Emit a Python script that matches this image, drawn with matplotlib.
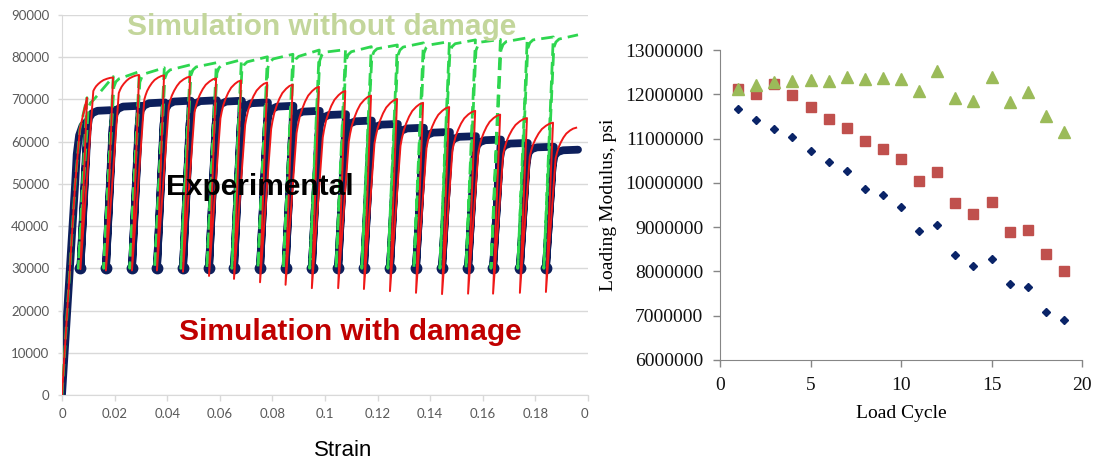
import matplotlib
matplotlib.use("Agg")
import matplotlib.pyplot as plt

# ---------------- left panel: cyclic stress-strain ----------------
# strain at the bottom of each of the 19 unload/reload loops
unload_strain = [0.0070, 0.0167, 0.0266, 0.0361, 0.0460, 0.0559, 0.0654, 0.0753, 0.0850, 0.0950,
                 0.1050, 0.1148, 0.1247, 0.1346, 0.1445, 0.1544, 0.1639, 0.1741, 0.1840]
end_strain = 0.1962

# experimental (psi)
exp_initial_strain = [0, 0.0050, 0.0056, 0.0065, 0.0078, 0.0099]
exp_initial_stress = [0, 50000, 57000, 61500, 63800, 65000]
exp_min = 30000
exp_peak = [67500, 68500, 69300, 69700, 69800, 69700, 69300, 68500, 67300, 66500,
            65000, 64200, 63300, 62300, 61300, 60500, 59700, 58800, 58100]
exp_dx = [0, 0.0025, 0.0033, 0.0045, 0.0065]
exp_frac = [0, 0.86, 0.95, 0.98, 0.995]

# simulation with damage
dmg_initial_strain = [0, 0.0050, 0.0068, 0.0095]
dmg_initial_stress = [0, 50000, 63000, 70400]
dmg_min = [29800, 29500, 29500, 29500, 29200, 28200, 27500, 26700, 26100, 25300,
           25300, 25100, 24600, 24200, 23900, 24000, 24000, 24200, 24400]
dmg_knee = [72000, 71500, 70000, 68500, 67000, 65500, 64000, 63000, 62000, 61000,
            60000, 59500, 59000, 58500, 58000, 57500, 57000, 56500, 56000]
dmg_peak = [75200, 75800, 75700, 75400, 75000, 74500, 74000, 73500, 73000, 72000,
            70900, 70100, 69200, 68200, 67300, 66400, 65600, 64500, 63300]
dmg_slope = 8.6e6
dmg_t = [0.06, 0.14, 0.25, 0.38, 0.52, 0.70, 0.85, 1.0]
dmg_f = [0.17, 0.35, 0.52, 0.68, 0.81, 0.91, 0.97, 1.0]

# simulation without damage
nodmg_min = 30000
nodmg_peak = [75400, 76600, 77500, 78200, 78700, 79400, 80100, 80700, 81700, 81800,
              82500, 82900, 83400, 83700, 84100, 84200, 84600, 84800, 85300]

# ---------------- right panel: loading modulus ----------------
cycle = list(range(1, 20))
mod_exp = [11.66, 11.41, 11.22, 11.03, 10.71, 10.47, 10.27, 9.87, 9.73, 9.46,
           8.92, 9.05, 8.37, 8.12, 8.29, 7.71, 7.65, 7.09, 6.90]
mod_dmg = [12.11, 12.01, 12.23, 11.98, 11.71, 11.44, 11.23, 10.95, 10.76, 10.54,
           10.05, 10.25, 9.55, 9.30, 9.57, 8.88, 8.94, 8.39, 8.02]
mod_nodmg = [12.11, 12.21, 12.27, 12.31, 12.33, 12.30, 12.38, 12.34, 12.36, 12.35,
             12.07, 12.53, 11.92, 11.85, 12.39, 11.82, 12.06, 11.50, 11.14]

strain_ticks = [0, 0.02, 0.04, 0.06, 0.08, 0.1, 0.12, 0.14, 0.16, 0.18, 0.2]
strain_labels = ['0', '0.02', '0.04', '0.06', '0.08', '0.1', '0.12', '0.14', '0.16', '0.18', '0']
stress_ticks = list(range(0, 90001, 10000))


def seg_top(k, offset, last):
    if k + 1 < len(unload_strain):
        return unload_strain[k + 1] + offset
    return last


def exp_path():
    xs, ys = list(exp_initial_strain), list(exp_initial_stress)
    for k, e in enumerate(unload_strain):
        for dx, f in zip(exp_dx, exp_frac):
            xs.append(e + dx)
            ys.append(exp_min + f * (exp_peak[k] - exp_min))
        xs.append(seg_top(k, 0.0030, end_strain))
        ys.append(exp_peak[k])
    return xs, ys


def dmg_path():
    xs, ys = list(dmg_initial_strain), list(dmg_initial_stress)
    for k, e in enumerate(unload_strain):
        lo, kn, pk = dmg_min[k], dmg_knee[k], dmg_peak[k]
        xk = e + (kn - lo) / dmg_slope
        top = seg_top(k, 0.0027, 0.1955)
        xs += [e, xk]
        ys += [lo, kn]
        for t, f in zip(dmg_t, dmg_f):
            xs.append(xk + t * (top - xk))
            ys.append(kn + f * (pk - kn))
    return xs, ys


def nodmg_path():
    xs, ys = list(dmg_initial_strain), list(dmg_initial_stress)
    prev = dmg_initial_stress[-1]
    for k, e in enumerate(unload_strain):
        xs += [e - 0.0008, e + 0.0030, e + 0.0038, e + 0.0050, seg_top(k, 0.0028, end_strain)]
        ys += [nodmg_min, prev - 2500, prev - 1200, prev - 500, nodmg_peak[k]]
        prev = nodmg_peak[k]
    return xs, ys


fig = plt.figure(figsize=(10.95, 4.62), dpi=100)

ax1 = fig.add_axes([62 / 1095, 1 - 395 / 462, (588 - 62) / 1095, 380 / 462])
grid_c = '#d9d9d9'
ax1.set_xlim(0, 0.2)
ax1.set_ylim(0, 90000)
ax1.set_yticks(stress_ticks)
ax1.set_xticks(strain_ticks)
ax1.set_xticklabels(strain_labels)
ax1.xaxis.get_ticklabels()[-1].set_horizontalalignment('right')
ax1.grid(axis='y', color=grid_c, lw=1.0)
ax1.set_axisbelow(True)
for s in ['top', 'right']:
    ax1.spines[s].set_visible(False)
for s in ['left', 'bottom']:
    ax1.spines[s].set_color(grid_c)
ax1.tick_params(axis='both', colors=grid_c, labelcolor='#595959', labelsize=9.5, length=4, width=1)
ax1.tick_params(axis='x', pad=5)
ax1.tick_params(axis='y', pad=6, length=3)
for lab in ax1.get_xticklabels() + ax1.get_yticklabels():
    lab.set_family('Lato')

navy = '#0d1f5c'
x, y = exp_path()
ax1.plot(x, y, color=navy, lw=5.6, solid_joinstyle='round', solid_capstyle='round', zorder=2)
ax1.plot(unload_strain, [exp_min] * len(unload_strain), 'o', color=navy, ms=7.5, zorder=2)
x, y = nodmg_path()
ax1.plot(x, y, color='#2ed64f', lw=2.0, ls=(0, (4.5, 2.2)), zorder=3)
x, y = dmg_path()
ax1.plot(x, y, color='#f01818', lw=1.4, zorder=4)

bold = dict(family='Liberation Sans', weight='bold', fontsize=21.5, ha='center', va='baseline')
ax1.text(0.0987, 85300, 'Simulation without damage', color='#c3d69b', zorder=5, **bold)
ax1.text(0.0753, 47400, 'Experimental', color='black', zorder=5, **bold)
ax1.text(0.1095, 13000, 'Simulation with damage', color='#c00000', zorder=5, **bold)
fig.text(343 / 1095, 1 - 451 / 462, 'Strain', ha='center', va='center',
         family='Liberation Sans', fontsize=16)

# right panel
ax2 = fig.add_axes([720 / 1095, 1 - 360 / 462, 362 / 1095, 310 / 462])
ax2.plot(cycle, [v * 1e6 for v in mod_exp], 'D', color='#0a2468', ms=4.5, zorder=3)
ax2.plot(cycle, [v * 1e6 for v in mod_dmg], 's', color='#c0504d', ms=7.5, zorder=3)
ax2.plot(cycle, [v * 1e6 for v in mod_nodmg], '^', color='#9bbb59', ms=8.5, zorder=3)
ax2.set_xlim(0, 20)
ax2.set_ylim(6e6, 13e6)
ax2.set_xticks([0, 5, 10, 15, 20])
ax2.set_yticks([6e6, 7e6, 8e6, 9e6, 10e6, 11e6, 12e6, 13e6])
ax2.set_yticklabels([str(int(v)) for v in ax2.get_yticks()])
for s in ['top', 'right']:
    ax2.spines[s].set_visible(False)
for s in ['left', 'bottom']:
    ax2.spines[s].set_color('#868686')
ax2.tick_params(axis='both', colors='#868686', labelcolor='#111111', labelsize=14,
                length=5, width=1, pad=7)
for lab in ax2.get_xticklabels() + ax2.get_yticklabels():
    lab.set_family('Liberation Serif')
ax2.set_xlabel('Load Cycle', family='Liberation Serif', fontsize=14, labelpad=8)
ax2.set_ylabel('Loading Modulus, psi', family='Liberation Serif', fontsize=14, labelpad=6)

fig.savefig('out.png', dpi=100)
